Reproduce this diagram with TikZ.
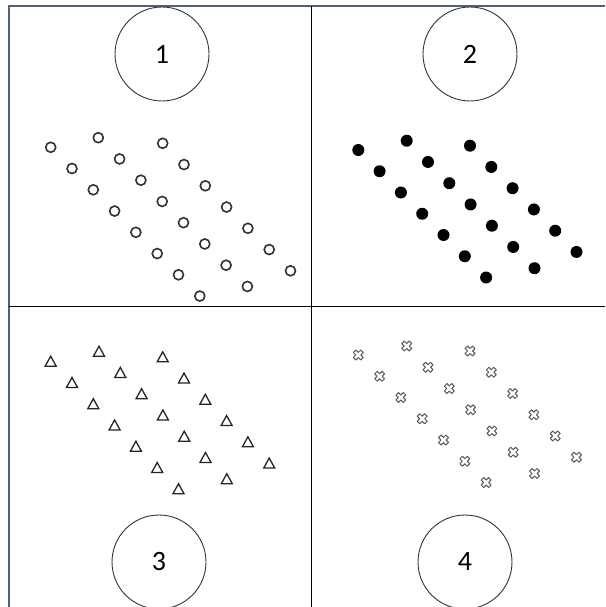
\documentclass[tikz,border=0pt]{standalone}
\usepackage{fontspec}
\setmainfont{Carlito}
\definecolor{framec}{RGB}{79,98,125}
\definecolor{markc}{RGB}{50,50,50}
\tikzset{
  bigcirc/.style={draw=black!80, line width=0.9pt, circle, minimum size=94pt, inner sep=0pt, font=\fontsize{28}{30}\selectfont},
  opendot/.style={draw=markc, line width=1.6pt, fill=white},
  fulldot/.style={fill=black},
  tri/.style={draw=black!85, line width=1.3pt, line join=miter},
  crossm/.style={draw=black!65, line width=1pt, line join=round},
  framel/.style={draw=framec, line width=2pt},
  divl/.style={draw=black, line width=1.4pt}
}
\begin{document}
\begin{tikzpicture}[x=1pt,y=-1pt]
\useasboundingbox (0,0) rectangle (605,607);
\fill[white] (0,0) rectangle (605,607);
% frame
\coordinate (tl) at (9,6);
\coordinate (tr) at (605,6);
\coordinate (bl) at (9,607);
\draw[framel] (tr) -- (tl) -- (bl);
% dividers
\coordinate (vt) at (311.7,6);
\coordinate (vb) at (311.7,607);
\coordinate (hl) at (9,306.7);
\coordinate (hr) at (605,306.7);
\draw[divl] (vt) -- (vb);
\draw[divl] (hl) -- (hr);
% big circles
\node[bigcirc] (c1) at (162,54) {1};
\node[bigcirc] (c2) at (470,54) {2};
\node[bigcirc] (c3) at (159,562) {3};
\node[bigcirc] (c4) at (465,562) {4};
% quadrant 1: open circles
\foreach \sx/\sy/\n in {50.7/147.3/7, 98.3/137.7/7, 162.7/143.3/6}
  \foreach \i in {0,...,\n}
    \draw[opendot] (\sx+21.3*\i, \sy+21.25*\i) circle (5pt);
% quadrant 2: filled dots
\foreach \sx/\sy/\n in {358.3/150/6, 406.7/140.7/6, 470/145.7/5}
  \foreach \i in {0,...,\n}
    \fill[fulldot] (\sx+21.3*\i, \sy+21.25*\i) circle (6pt);
% quadrant 3: triangles
\foreach \sx/\sy/\n in {50.7/361.7/6, 99/351.7/6, 162.7/357.3/5}
  \foreach \i in {0,...,\n}
    \draw[tri] (\sx+21.3*\i, \sy+21.25*\i) ++(0,-5.5) -- ++(5.5,10) -- ++(-11,0) -- cycle;
% quadrant 4: crosses
\foreach \sx/\sy/\n in {358.3/355/6, 406.7/346/6, 470/351/5}
  \foreach \i in {0,...,\n}
    \draw[crossm, shift={(\sx+21.3*\i, \sy+21.25*\i)}, rotate=45]
      (-1.8,-5.2) -- (1.8,-5.2) -- (1.8,-1.8) -- (5.2,-1.8) -- (5.2,1.8) -- (1.8,1.8)
      -- (1.8,5.2) -- (-1.8,5.2) -- (-1.8,1.8) -- (-5.2,1.8) -- (-5.2,-1.8) -- (-1.8,-1.8) -- cycle;
\end{tikzpicture}
\end{document}
